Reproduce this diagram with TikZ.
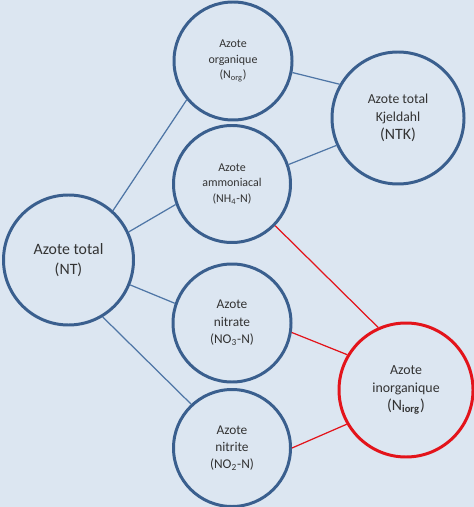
\documentclass[tikz,border=0pt]{standalone}
\usepackage{fontspec}
\setmainfont{Carlito}
\usepackage{xcolor}
\usepackage{tikz}
\definecolor{bgc}{HTML}{DCE6F1}
\definecolor{mainc}{HTML}{3A5F8E}
\definecolor{linec}{HTML}{4F76A6}
\definecolor{redc}{HTML}{E3141B}
\definecolor{txtc}{HTML}{333333}
\tikzset{
  circ/.style={circle,draw=mainc,line width=1.7pt,inner sep=0pt,align=center,text=txtc},
  redcirc/.style={circ,draw=redc},
  ln/.style={linec,line width=0.7pt},
  redln/.style={redc,line width=0.7pt}
}
\newcommand{\fsz}[1]{\fontsize{#1}{1.3\dimexpr #1pt\relax}\selectfont}

\begin{document}
\begin{tikzpicture}
\fill[bgc] (0,0) rectangle (9.48,-10.14);
\useasboundingbox (0,0) rectangle (9.48,-10.14);
% nodes
\node[circ,minimum size=2.6cm,font=\fsz{9}] (nt) at (1.37,-5.2) {Azote total\\(NT)};
\node[circ,minimum size=2.36cm,font=\fsz{6.8}] (norg) at (4.66,-1.22) {Azote\\organique\\(N\textsubscript{org})};
\node[circ,minimum size=2.34cm,font=\fsz{6.8}] (nh) at (4.64,-3.68) {Azote\\ammoniacal\\(NH\textsubscript{4}-N)};
\node[circ,minimum size=2.64cm,font=\fsz{7.8}] (ntk) at (7.96,-2.36) {Azote total\\Kjeldahl\\{\fsz{9}(NTK)}};
\node[circ,minimum size=2.36cm,font=\fsz{7.6}] (nno3) at (4.64,-6.46) {Azote\\nitrate\\(NO\textsubscript{3}-N)};
\node[circ,minimum size=2.34cm,font=\fsz{7.6}] (nno2) at (4.64,-8.96) {Azote\\nitrite\\(NO\textsubscript{2}-N)};
\node[redcirc,minimum size=2.68cm,font=\fsz{7.9}] (niorg) at (8.12,-7.8) {Azote\\inorganique\\{\fsz{9}(N$_{\mathbf{iorg}}$)}};
% connectors
\draw[ln] (nt.48) -- (norg.220);
\draw[ln] (nt.25) -- (nh.200);
\draw[ln] (nt.-22) -- (nno3.161);
\draw[ln] (nt.-59) -- (nno2.133);
\draw[ln] (norg.-11) -- (ntk.150);
\draw[ln] (nh.19) -- (ntk.204);
\draw[redln] (nh.-44) -- (niorg.114);
\draw[redln] (nno3.-9) -- (niorg.149);
\draw[redln] (nno2.0) -- (niorg.210);
\end{tikzpicture}
\end{document}
